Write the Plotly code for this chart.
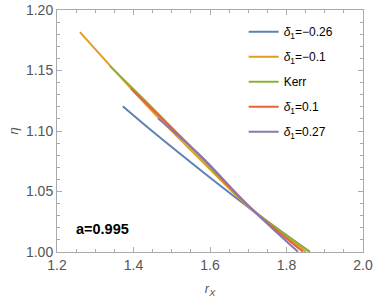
import plotly.graph_objects as go

# Data (r_X, eta)
blue_x = [1.372, 1.443, 1.574, 1.7045, 1.861]
blue_y = [1.1204, 1.1014, 1.0680, 1.036, 1.0002]
orange_x = [1.260, 1.443, 1.574, 1.7045, 1.851]
orange_y = [1.1817, 1.1183, 1.0767, 1.0362, 1.0002]
green_x = [1.3385, 1.443, 1.574, 1.7045, 1.861]
green_y = [1.1536, 1.1212, 1.0791, 1.0370, 1.0002]
red_x = [1.3934, 1.443, 1.574, 1.7045, 1.843]
red_y = [1.135, 1.1198, 1.0795, 1.037, 1.0002]
purple_x = [1.464, 1.574, 1.7045, 1.830]
purple_y = [1.1105, 1.0799, 1.037, 1.0002]

names = ["<i>δ</i><sub>1</sub>=−0.26", "<i>δ</i><sub>1</sub>=−0.1", "Kerr",
         "<i>δ</i><sub>1</sub>=0.1", "<i>δ</i><sub>1</sub>=0.27"]
colors = ["#5E81B5", "#E19C24", "#8FB032", "#EB6235", "#8778B3"]
xs = [blue_x, orange_x, green_x, red_x, purple_x]
ys = [blue_y, orange_y, green_y, red_y, purple_y]

fig = go.Figure()
for i, (x, y, n, c) in enumerate(zip(xs, ys, names, colors)):
    fig.add_trace(go.Scatter(x=x, y=y, mode="lines", name=n, legendgroup=str(i),
                             line=dict(color=c, width=2, shape="spline", smoothing=1.0)))

axis_common = dict(showline=True, linecolor="#AAAAAA", linewidth=1, mirror="ticks",
                   ticks="inside", ticklen=5, tickcolor="#AAAAAA", showgrid=False,
                   zeroline=False, automargin=False,
                   tickfont=dict(family="Liberation Sans, Arial", size=14, color="#555555"))

fig.update_xaxes(range=[1.2, 2.0], dtick=0.2, tick0=1.2, tickformat=".1f",
                 minor=dict(dtick=0.05, ticks="inside", ticklen=3, tickcolor="#AAAAAA"),
                 title=dict(text="<i>r<sub>X</sub></i>", font=dict(family="Liberation Sans, Arial", size=13, color="#555555"), standoff=20),
                 **axis_common)
fig.update_yaxes(range=[1.0, 1.2], dtick=0.05, tick0=1.0, tickformat=".2f",
                 minor=dict(dtick=0.01, ticks="inside", ticklen=3, tickcolor="#AAAAAA"),
                 title=dict(text="<i>η</i>", font=dict(family="Liberation Sans, Arial", size=13, color="#555555"), standoff=4),
                 **axis_common)

fig.add_annotation(x=0.055, y=0.095, xref="paper", yref="paper", xanchor="left", yanchor="middle",
                   text="<b>a=0.995</b>", showarrow=False,
                   font=dict(family="Liberation Sans, Arial", size=14.5, color="black"))

fig.update_layout(
    width=374, height=298,
    margin=dict(l=57, r=11, t=10, b=46),
    plot_bgcolor="white", paper_bgcolor="white",
    legend=dict(x=0.61, y=0.97, xanchor="left", yanchor="top", traceorder="grouped",
                tracegroupgap=6, bgcolor="rgba(0,0,0,0)",
                font=dict(family="Liberation Sans, Arial", size=12, color="black")),
)

fig.write_html("out.html", config={"displayModeBar": False},
               post_script="document.body.style.margin='0';")
